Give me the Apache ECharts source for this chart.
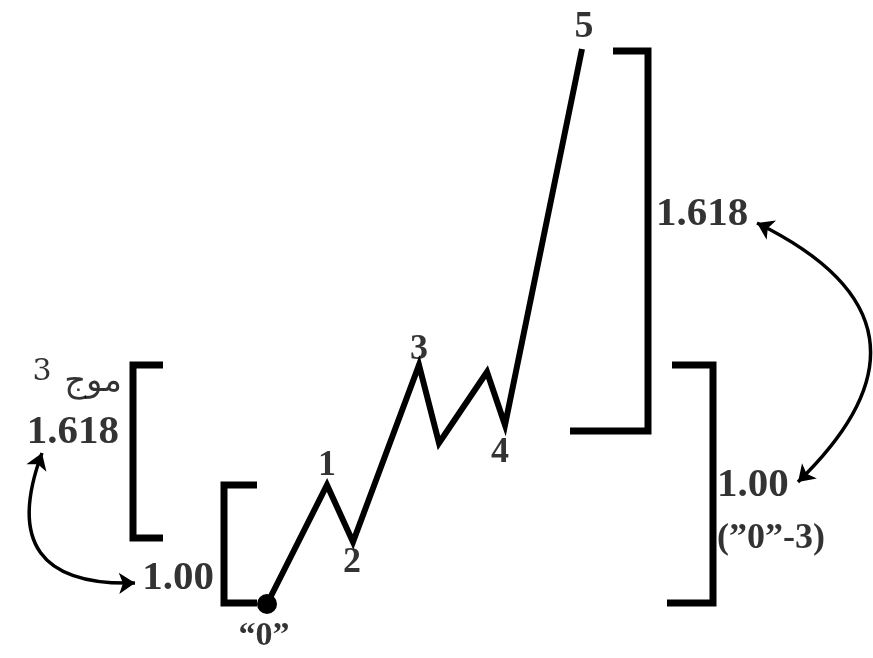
<!DOCTYPE html>
<html>
<head>
<meta charset="utf-8">
<script src="https://cdn.jsdelivr.net/npm/echarts@6/dist/echarts.min.js"></script>
<style>html,body{margin:0;padding:0;background:#fff}#c{width:873px;height:658px}</style>
</head>
<body>
<div id="c"></div>
<script>
// Wave path (time, price)
const waveX = [267, 327, 353, 419, 439, 487, 505, 582];
const waveY = [54, 173, 116, 293, 215, 286, 233, 609];

// Brackets (polylines)
const bracketLeftWave3 = [[163, 293], [133, 293], [133, 120], [163, 120]];
const bracketLeftWave1 = [[257, 173], [224, 173], [224, 55], [257, 55]];
const bracketRightWave5 = [[613, 607], [648, 607], [648, 227], [570, 227]];
const bracketRightZeroTo3 = [[672, 293], [713, 293], [713, 55], [667, 55]];

// Curved double arrows: [start, end, curveness]
const arrowLeft = [[42, 205], [135, 75], -0.74];
const arrowRight = [[757, 435], [798, 176], 0.71];

// Text annotations
const labelX = [264, 327, 352, 419, 500, 584, 42, 93, 119, 214, 656, 717, 717];
const labelY = [22, 192, 95, 308, 205, 631, 286, 276, 226, 80, 444, 173, 119];
const labelText = ['“0”', '1', '2', '3', '4', '5', '3', 'موج', '1.618', '1.00', '1.618', '1.00', '(”0”-3)'];
const labelSize = [34, 36, 36, 36, 36, 38, 30, 34, 41, 41, 41, 41, 36];
const labelBold = [1, 1, 1, 1, 1, 1, 0, 0, 1, 1, 1, 1, 1];
const labelAlign = ['center', 'center', 'center', 'center', 'center', 'center', 'center', 'center', 'right', 'right', 'left', 'left', 'left'];

const chart = echarts.init(document.getElementById('c'), null, {renderer: 'canvas'});

const waveData = waveX.map((x, i) => ({
  value: [x, waveY[i]],
  symbol: i === 0 ? 'circle' : 'none',
  symbolSize: i === 0 ? 20 : 0
}));

function bracketSeries(pts) {
  return {
    type: 'line', data: pts, symbol: 'none', silent: true,
    lineStyle: {color: '#000', width: 7, join: 'miter', cap: 'butt'}
  };
}

const labelData = labelX.map((x, i) => ({
  value: [x, labelY[i]],
  label: {
    show: true, position: 'inside', formatter: labelText[i],
    fontSize: labelSize[i], fontWeight: labelBold[i] ? 'bold' : 'normal',
    fontFamily: labelBold[i] ? '"Liberation Serif", serif' : '"DejaVu Serif", "DejaVu Sans", serif',
    color: '#000', align: labelAlign[i], verticalAlign: 'middle'
  }
}));

chart.setOption({
  animation: false,
  backgroundColor: '#fff',
  grid: {left: 0, right: 0, top: 0, bottom: 0},
  xAxis: {type: 'value', min: 0, max: 873, show: false},
  yAxis: {type: 'value', min: 0, max: 658, show: false},
  series: [
    {
      type: 'line', data: waveData, silent: true,
      itemStyle: {color: '#000'},
      lineStyle: {color: '#000', width: 6, join: 'miter', cap: 'butt'}
    },
    bracketSeries(bracketLeftWave3),
    bracketSeries(bracketLeftWave1),
    bracketSeries(bracketRightWave5),
    bracketSeries(bracketRightZeroTo3),
    {
      type: 'lines', coordinateSystem: 'cartesian2d', silent: true,
      symbol: ['arrow', 'arrow'], symbolSize: 16,
      data: [arrowLeft, arrowRight].map(a => ({
        coords: [a[0], a[1]],
        lineStyle: {curveness: a[2]}
      })),
      lineStyle: {color: '#000', width: 3.5, opacity: 1}
    },
    {
      type: 'scatter', data: labelData, symbolSize: 0, silent: true,
      itemStyle: {color: 'transparent'}
    }
  ]
});
</script>
</body>
</html>
